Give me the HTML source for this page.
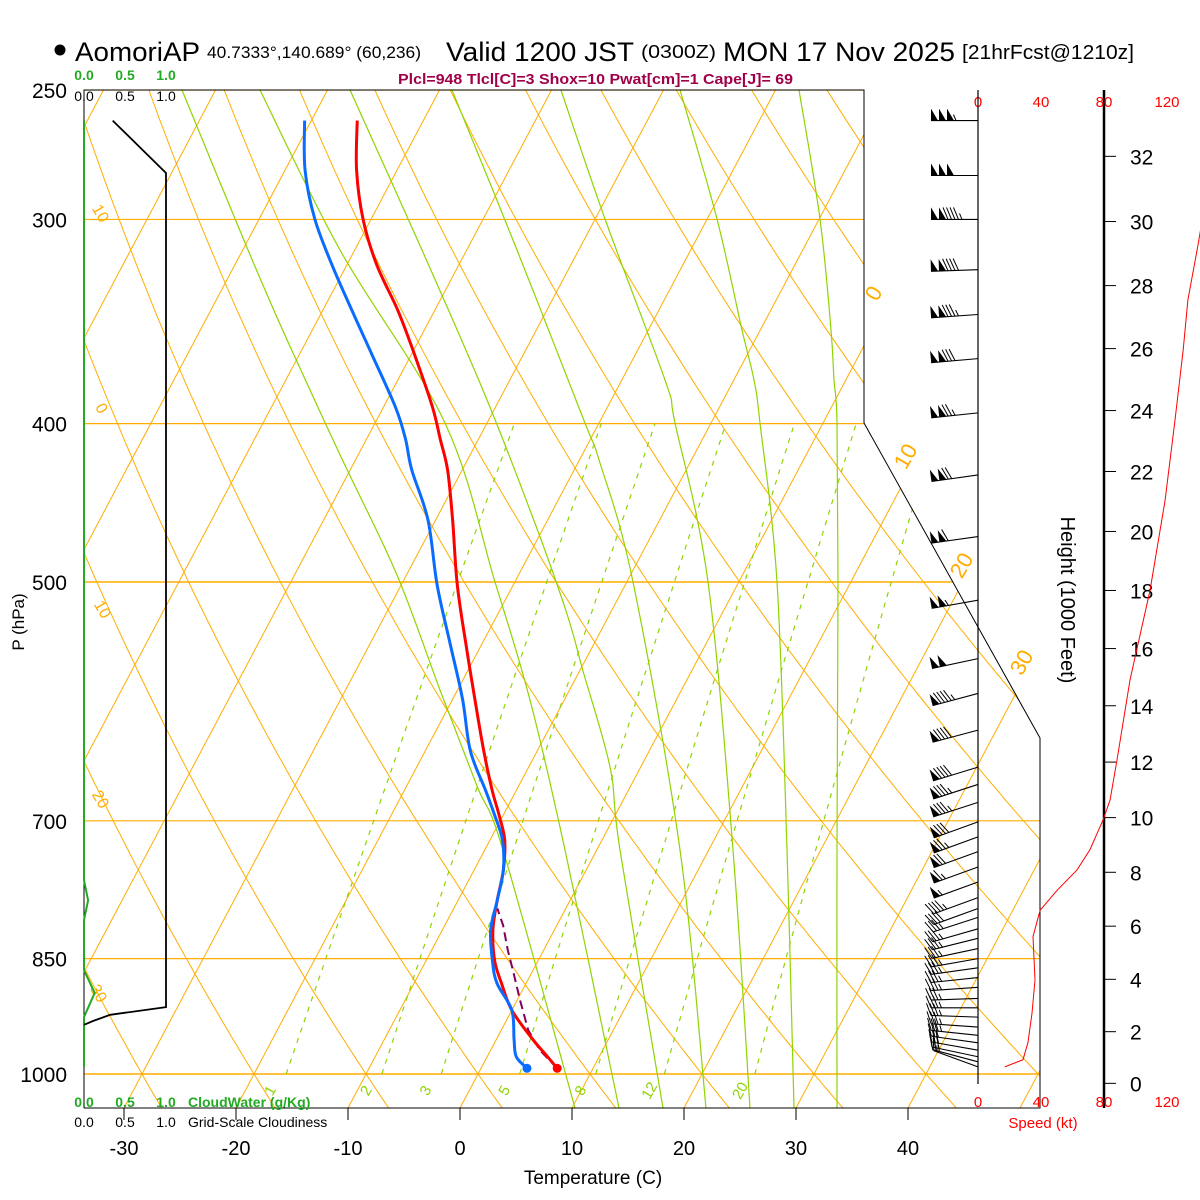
<!DOCTYPE html>
<html><head><meta charset="utf-8">
<style>
html,body{margin:0;padding:0;background:#fff;}
svg{display:block;font-family:"Liberation Sans",Arial,sans-serif;}
</style></head>
<body>
<svg id="chart" width="1200" height="1200" viewBox="0 0 1200 1200" xmlns="http://www.w3.org/2000/svg">
<defs>
<clipPath id="plotclip"><polygon points="84,90 864,90 864,423 1040,738 1040,1108 84,1108"/></clipPath>
<clipPath id="pageclip"><rect x="0" y="0" width="1200" height="1200"/></clipPath>
</defs>
<g id="title">
<circle cx="60" cy="50" r="5.5" fill="#000"/>
<text x="75" y="61" font-size="27" textLength="125" lengthAdjust="spacingAndGlyphs">AomoriAP</text>
<text x="207" y="58" font-size="17" textLength="214" lengthAdjust="spacingAndGlyphs">40.7333°,140.689° (60,236)</text>
<text x="446" y="61" font-size="27" textLength="188" lengthAdjust="spacingAndGlyphs">Valid 1200 JST</text>
<text x="641" y="58" font-size="18" textLength="75" lengthAdjust="spacingAndGlyphs">(0300Z)</text>
<text x="723" y="61" font-size="27" textLength="232" lengthAdjust="spacingAndGlyphs">MON 17 Nov 2025</text>
<text x="962" y="59" font-size="20" textLength="172" lengthAdjust="spacingAndGlyphs">[21hrFcst@1210z]</text>
<text x="398" y="84" font-size="15" font-weight="bold" fill="#a0004a" textLength="395" lengthAdjust="spacingAndGlyphs">Plcl=948 Tlcl[C]=3 Shox=10 Pwat[cm]=1 Cape[J]= 69</text>
</g>
<g id="grid" clip-path="url(#plotclip)"></g>
<g id="profiles"></g>
<g id="frame">
<polyline points="84,1108 84,90 864,90 864,423 1040,738 1040,1108 84,1108" fill="none" stroke="#000" stroke-width="1"/>
</g>
<g id="axes"></g>
<g id="winds"></g>
<g id="speed" clip-path="url(#pageclip)"></g>
<g id="cloud"></g>
</svg>
<script>
// ---------- data ----------
const tempP = [261,280,300,320,341,363,391,409,427,458,502,546,590,634,670,694,719,750,783,816,852,880,914,953,976,992];
const tempT = [-55.9,-53.6,-50.7,-47.3,-43.3,-39.7,-35.6,-33.4,-31.3,-28.5,-25.0,-21.4,-18.0,-14.8,-12.2,-10.4,-8.7,-7.4,-6.5,-5.5,-3.9,-2.2,0.0,3.3,5.4,6.8];
const dewT  = [-60.6,-58.2,-55.0,-51.3,-47.4,-43.5,-38.9,-36.5,-34.5,-30.7,-26.8,-22.8,-19.1,-16.0,-12.8,-10.8,-8.9,-7.4,-6.5,-5.7,-4.1,-2.6,0.0,1.6,2.6,4.1];
const parcelP = [992,967,940,901,864,840,811,792];
const parcelT = [6.8,4.4,2.4,0.25,-1.8,-3.2,-4.8,-6.1];
const pressureTicks = [250,300,400,500,700,850,1000];
const tempTicks = [-30,-20,-10,0,10,20,30,40];
const isotherms = [-130,-120,-110,-100,-90,-80,-70,-60,-50,-40,-30,-20,-10,0,10,20,30,40,50,60];
const dryThetas = [-40,-30,-20,-10,0,10,20,30,40,50,60,70,80,90,100,110,120,130,140,150,160,170,180];
const mixRatios = [1,2,3,5,8,12,20];
const windP   = [990,983,976,967,957,947,936,923,911,899,885,873,861,850,838,826,815,802,792,780,763,747,731,716,701,682,665,649,616,585,557,513,469,430,394,365,343,322,300,282,261];
const windSpd = [17,27,30,31,32,33,34,34,35,35,36,36,36,36,35,35,35,37,40,45,55,63,70,75,79,83,86,88,92,97,100,105,110,120,125,130,135,140,145,150,155];
const windDir = [290,285,282,280,278,276,274,272,270,268,266,264,262,260,258,256,254,252,250,250,250,250,250,250,250,252,252,253,255,255,258,260,262,262,264,265,266,268,270,270,270];
const spdProfP = [990,980,957,918,876,824,794,772,750,729,699,680,642,574,506,446,398,361,336,311,290];
const spdProfV = [17,28.6,31.7,34.3,36.2,34.9,39.4,50.2,62.9,71.1,79.4,83.8,88.3,96.5,109.2,118.7,125.1,130.2,133.3,139.7,145];
const cloudP = [261,281,910,920,928,933];
const cloudV = [0.35,1,1,0.32,0.11,0];
const cwP = [261,761,783,805,864,892,923,990];
const cwV = [0,0,0.05,0,0,0.13,0,0];
const heightTicks = [0,2,4,6,8,10,12,14,16,18,20,22,24,26,28,30,32];
const speedTicks = [0,40,80,120];
// moist-adiabat guide curves (background geometry: [y, x] anchors)
const moistGuides = [
 [[1108,837],[850,837],[582,838],[423,837],[380,834],[330,831],[219,820],[90,799]],
 [[1108,794],[850,787],[582,777],[423,760],[380,754],[330,742],[219,717],[90,680]],
 [[1108,750],[850,733],[582,708],[423,675],[380,665],[219,605],[90,561]],
 [[1108,706],[850,680],[582,633],[463,600],[418,583],[250,517],[90,452]],
 [[1108,663],[850,620],[767,610],[671,583],[614,567],[518,533],[395,485],[250,422],[90,350]],
 [[1108,619],[850,565],[700,530],[582,495],[423,445],[250,340],[90,260]],
 [[1108,575],[850,503],[786,477],[690,440],[575,397],[459,342],[342,288],[250,248],[90,182]]
];

// ---------- axis functions ----------
const NS='http://www.w3.org/2000/svg';
function yOf(p){return 1074-709.8*Math.log(1000/p);}
function xOf(T,p){return 460+11.2*T+0.53*(1108-yOf(p));}
function xSpd(s){return 978+1.575*s;}
function xCloud(v){return 84+82*v;}
function yHeight(kft){const p=1013.25*Math.pow(1-6.8756e-6*kft*1000,5.2559);return yOf(p);}
function mk(tag,attrs,parent){const e=document.createElementNS(NS,tag);for(const k in attrs)e.setAttribute(k,attrs[k]);parent.appendChild(e);return e;}
function pts(a){return a.map(q=>q[0].toFixed(1)+','+q[1].toFixed(1)).join(' ');}
function smoothPath(a){let d='M'+a[0][0]+','+a[0][1];for(let i=0;i<a.length-1;i++){const p0=a[Math.max(0,i-1)],p1=a[i],p2=a[i+1],p3=a[Math.min(a.length-1,i+2)];const c1=[p1[0]+(p2[0]-p0[0])/6,p1[1]+(p2[1]-p0[1])/6],c2=[p2[0]-(p3[0]-p1[0])/6,p2[1]-(p3[1]-p1[1])/6];d+=' C'+c1[0].toFixed(1)+','+c1[1].toFixed(1)+' '+c2[0].toFixed(1)+','+c2[1].toFixed(1)+' '+p2[0].toFixed(1)+','+p2[1].toFixed(1);}return d;}

const grid=document.getElementById('grid');
const ORANGE='#ffad00', GREEN='#8fd400';
// pressure lines
pressureTicks.forEach(p=>{
  const l=mk('line',{x1:84,x2:1045,y1:yOf(p),y2:yOf(p),stroke:ORANGE,'stroke-width':(p===500||p===1000)?1.6:1.2},grid);
  
  
});
// isotherms
isotherms.forEach(T=>{
  const l=mk('line',{x1:xOf(T,1049),y1:yOf(1049),x2:xOf(T,240),y2:yOf(240),stroke:ORANGE,'stroke-width':1},grid);
  
  
});
// dry adiabats
dryThetas.forEach(th=>{
  const a=[];for(let p=1060;p>=240;p-=10){const T=(th+273.15)*Math.pow(p/1000,0.286)-273.15;a.push([xOf(T,p),yOf(p)]);}
  const l=mk('polyline',{points:pts(a),fill:'none',stroke:ORANGE,'stroke-width':1},grid);
  
  
});
// moist guides
moistGuides.forEach((g,i)=>{
  const l=mk('path',{d:smoothPath(g.map(q=>[q[1],q[0]])),fill:'none',stroke:GREEN,'stroke-width':1.2},grid);
  
  
});
// mixing ratio lines
function tdFromW(w,p){const e=w*p/(622+w);const L=Math.log(e/6.112);return 243.5*L/(17.67-L);}
mixRatios.forEach(w=>{
  const a=[];for(let p=1000;p>=400;p-=10){a.push([xOf(tdFromW(w,p),p),yOf(p)]);}
  const l=mk('polyline',{points:pts(a),fill:'none',stroke:GREEN,'stroke-width':1.2,'stroke-dasharray':'5,6'},grid);
  
  
});

const axes=document.getElementById('axes');
// mixing ratio labels
mixRatios.forEach(w=>{
  const x=xOf(tdFromW(w,1024),1024)-6, y=1093;
  const t=mk('text',{x:x,y:y,'font-size':15,fill:GREEN,'text-anchor':'middle',transform:'rotate(-60 '+x+' '+y+')'},axes);
  t.textContent=String(w);
  
  
});
// theta labels (left) and isotherm labels (right)
const thetaLab=[[10,96,216],[0,97,411],[-10,98,612],[-20,96,802],[-30,94,996]];
thetaLab.forEach(q=>{
  const t=mk('text',{x:q[1],y:q[2],'font-size':16,fill:ORANGE,'text-anchor':'middle',transform:'rotate(60 '+q[1]+' '+q[2]+')'},axes);
  t.textContent=q[0]===10?'10':(q[0]===0?'0':String(-q[0]));
  
  
});
const isoLab=[[0,880,297],[10,912,460],[20,968,569],[30,1028,666]];
isoLab.forEach(q=>{
  const t=mk('text',{x:q[1],y:q[2],'font-size':22,fill:ORANGE,'text-anchor':'middle',transform:'rotate(-60 '+q[1]+' '+q[2]+')'},axes);
  t.textContent=String(q[0]);
  
  
});
// pressure labels
pressureTicks.forEach(p=>{
  const t=mk('text',{x:67,y:yOf(p)+8,'font-size':21,'text-anchor':'end'},axes);
  t.textContent=String(p);
  
  
});
{const t=mk('text',{x:24,y:622,'font-size':17,'text-anchor':'middle',transform:'rotate(-90 24 622)'},axes);t.textContent='P (hPa)';

}
// temperature ticks
tempTicks.forEach(T=>{
  const x=xOf(T,yToP(1108));
  const l=mk('line',{x1:x,x2:x,y1:1108,y2:1120,stroke:'#000','stroke-width':1},axes);
  
  
  const t=mk('text',{x:x,y:1155,'font-size':20,'text-anchor':'middle'},axes);
  t.textContent=String(T);
  
  
});
function yToP(y){return 1000*Math.exp(-(1074-y)/709.8);}
{const t=mk('text',{x:593,y:1184,'font-size':19,'text-anchor':'middle'},axes);t.textContent='Temperature (C)';

}
// height axis
{const l=mk('line',{x1:1104,x2:1104,y1:90,y2:1108,stroke:'#000','stroke-width':2.5},axes);

}
heightTicks.forEach(h=>{
  const y=yHeight(h);
  const l=mk('line',{x1:1104,x2:1116,y1:y,y2:y,stroke:'#000','stroke-width':1},axes);
  
  
  const t=mk('text',{x:1130,y:y+8,'font-size':21},axes);
  t.textContent=String(h);
  
  
});
{const t=mk('text',{x:1061,y:600,'font-size':20,'text-anchor':'middle',transform:'rotate(90 1061 600)'},axes);t.textContent='Height (1000 Feet)';

}
// speed axis labels
speedTicks.forEach(s=>{
  [107,1107].forEach((y,k)=>{
    const t=mk('text',{x:xSpd(s),y:y,'font-size':15,fill:'#ff0000','text-anchor':'middle'},axes);
    t.textContent=String(s);
    
    
  });
});
{const t=mk('text',{x:1043,y:1128,'font-size':15,fill:'#ff0000','text-anchor':'middle'},axes);t.textContent='Speed (kt)';

}

// profiles
const prof=document.getElementById('profiles');
{const l=mk('polyline',{points:pts(parcelP.map((p,i)=>[xOf(parcelT[i],p),yOf(p)])),fill:'none',stroke:'#800060','stroke-width':2,'stroke-dasharray':'9,5'},prof);

}
{const l=mk('path',{d:smoothPath(tempP.map((p,i)=>[xOf(tempT[i],p),yOf(p)])),fill:'none',stroke:'#ff0000','stroke-width':3},prof);

}
{const l=mk('path',{d:smoothPath(tempP.map((p,i)=>[xOf(dewT[i],p),yOf(p)])),fill:'none',stroke:'#0a6cff','stroke-width':3},prof);

}
{const n=tempP.length-1;
const c=mk('circle',{cx:xOf(tempT[n],tempP[n]),cy:yOf(tempP[n]),r:4.5,fill:'#ff0000'},prof);


const d=mk('circle',{cx:xOf(dewT[n],tempP[n]),cy:yOf(tempP[n]),r:4.5,fill:'#0a6cff'},prof);

}

// winds
const winds=document.getElementById('winds');
{const l=mk('line',{x1:978,x2:978,y1:90,y2:1084,stroke:'#000','stroke-width':1.2},winds);

}
windP.forEach((p,i)=>{
  const g=mk('g',{},winds);
  
  
  const y=yOf(p), r=windDir[i]*Math.PI/180;
  const dx=Math.sin(r), dy=-Math.cos(r);
  const px=-dy, py=dx; // feather side
  const L=47;
  const tx=978+dx*L, ty=y+dy*L;
  mk('line',{x1:978,y1:y,x2:tx,y2:ty,stroke:'#000','stroke-width':1.1},g);
  let s=Math.round(windSpd[i]/5)*5, pos=0;
  while(s>=50){
    const bx=tx-dx*pos, by=ty-dy*pos;
    mk('polygon',{points:pts([[bx,by],[bx+px*12,by+py*12],[bx-dx*7,by-dy*7]]),fill:'#000'},g);
    pos+=8;s-=50;
  }
  if(pos>0)pos+=1;
  while(s>=10){
    const bx=tx-dx*pos, by=ty-dy*pos;
    mk('line',{x1:bx,y1:by,x2:bx+px*12+dx*5,y2:by+py*12+dy*5,stroke:'#000','stroke-width':1},g);
    pos+=3.5;s-=10;
  }
  if(s>=5){
    const bx=tx-dx*pos, by=ty-dy*pos;
    mk('line',{x1:bx,y1:by,x2:bx+px*6+dx*2.5,y2:by+py*6+dy*2.5,stroke:'#000','stroke-width':1},g);
  }
});
// speed profile
{const sp=document.getElementById('speed');
const l=mk('polyline',{points:pts(spdProfP.map((p,i)=>[xSpd(spdProfV[i]),yOf(p)])),fill:'none',stroke:'#ff0000','stroke-width':1},sp);

}

// cloud panel
const cloud=document.getElementById('cloud');
{const l=mk('polyline',{points:pts(cwP.map((p,i)=>[xCloud(cwV[i]),yOf(p)])),fill:'none',stroke:'#22aa22','stroke-width':2},cloud);

}
{const l=mk('polyline',{points:pts(cloudP.map((p,i)=>[xCloud(cloudV[i]),yOf(p)])),fill:'none',stroke:'#000','stroke-width':1.8},cloud);

}
[0,0.5,1].forEach(v=>{
  [[80,'#22aa22','top-cloudwater'],[101,'#000','top-cloudiness'],[1107,'#22aa22','bottom-cloudwater'],[1127,'#000','bottom-cloudiness']].forEach(q=>{
    const t=mk('text',{x:xCloud(v),y:q[0],'font-size':14,fill:q[1],'text-anchor':'middle','font-weight':q[1]==='#000'?'normal':'bold'},cloud);
    t.textContent=v.toFixed(1);
    
    
  });
});
{const t=mk('text',{x:188,y:1107,'font-size':14,fill:'#22aa22','font-weight':'bold'},cloud);t.textContent='CloudWater (g/Kg)';

}
{const t=mk('text',{x:188,y:1127,'font-size':14,fill:'#000'},cloud);t.textContent='Grid-Scale Cloudiness';

}
</script>
</body></html>
